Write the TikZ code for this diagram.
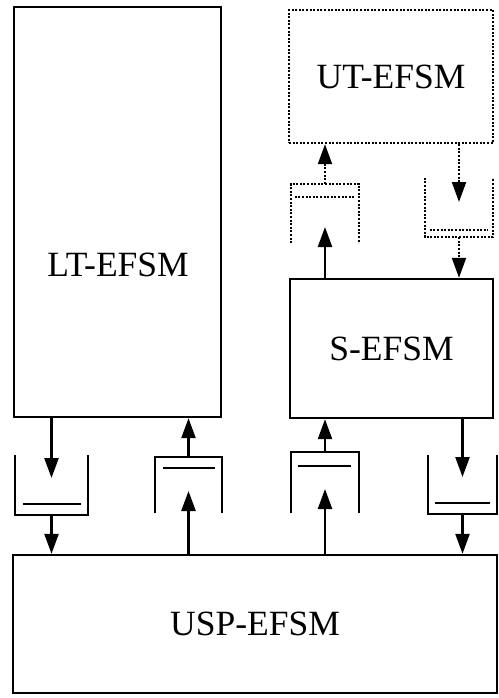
\documentclass[tikz,border=0pt]{standalone}
\usepackage{fontspec}
\setmainfont{Liberation Serif}
\usetikzlibrary{arrows.meta,positioning,calc}

\begin{document}
\begin{tikzpicture}[
  x=1pt, y=-1pt,
  font=\fontsize{35.5}{40}\selectfont,
  >={Triangle[length=20pt,width=14pt]},
  efsm/.style={draw, line width=2.4pt, inner sep=0pt},
  dotbox/.style={efsm, dash pattern=on 2pt off 1.6pt},
  queue/.style={inner sep=0pt},
  qline/.style={line width=2.4pt},
  qdot/.style={line width=2.2pt, dash pattern=on 2pt off 1.6pt},
  arr/.style={->, line width=2.4pt},
  darr/.style={->, line width=2.2pt, dash pattern=on 2pt off 1.6pt}
]
\useasboundingbox (0,0) rectangle (498,698);

% machines
\node[efsm, minimum width=207pt, minimum height=410pt] (lt) at (117.5,212) {};
\node (ltlabel) at (118,265) {LT-EFSM};
\node[dotbox, minimum width=204pt, minimum height=133pt] (ut) at (391,76.5) {UT-EFSM};
\node[efsm, minimum width=203pt, minimum height=139pt] (s) at (391.5,348.5) {S-EFSM};
\node[efsm, minimum width=484pt, minimum height=138pt] (usp) at (255,624) {USP-EFSM};

% queues
\node[queue, minimum width=73pt, minimum height=60pt] (q1) at (51.5,485) {};
\node[queue, minimum width=67pt, minimum height=56pt] (q2) at (188.5,485) {};
\node[queue, minimum width=68pt, minimum height=61pt] (q3) at (325,482.5) {};
\node[queue, minimum width=69pt, minimum height=59pt] (q4) at (462.5,484.5) {};
\node[queue, minimum width=68pt, minimum height=59pt] (q5) at (325,213.5) {};
\node[queue, minimum width=68pt, minimum height=59pt] (q6) at (459,207.5) {};

\draw[qline] (q1.north west) -- (q1.south west) -- (q1.south east) -- (q1.north east);
\draw[qline] ($(q1.south west)+(8,-11)$) -- ($(q1.south east)+(-7,-11)$);
\draw[qline] (q2.south west) -- (q2.north west) -- (q2.north east) -- (q2.south east);
\draw[qline] ($(q2.north west)+(8,11)$) -- ($(q2.north east)+(-7,11)$);
\draw[qline] (q3.south west) -- (q3.north west) -- (q3.north east) -- (q3.south east);
\draw[qline] ($(q3.north west)+(7,14)$) -- ($(q3.north east)+(-8,14)$);
\draw[qline] (q4.north west) -- (q4.south west) -- (q4.south east) -- (q4.north east);
\draw[qline] ($(q4.south west)+(7,-11)$) -- ($(q4.south east)+(-7,-11)$);
\draw[qdot] (q5.south west) -- (q5.north west) -- (q5.north east) -- (q5.south east);
\draw[qdot] ($(q5.north west)+(4,13)$) -- ($(q5.north east)+(-4,13)$);
\draw[qdot] (q6.north west) -- (q6.south west) -- (q6.south east) -- (q6.north east);
\draw[qdot] ($(q6.south west)+(5,-7)$) -- ($(q6.south east)+(-5,-7)$);

% arrow ends inside the queues
\coordinate (q1in) at (51.5,478);
\coordinate (q2in) at (188.5,491);
\coordinate (q3in) at (325,489);
\coordinate (q4in) at (462.5,477);
\coordinate (q5in) at (325,227);
\coordinate (q6in) at (459,202);

% flows
\draw[arr] (q1 |- lt.south) -- (q1in);
\draw[arr] (q1.south) -- (q1 |- usp.north);
\draw[arr] (q2 |- usp.north) -- (q2in);
\draw[arr] (q2.north) -- (q2 |- lt.south);
\draw[arr] (q3 |- usp.north) -- (q3in);
\draw[arr] (q3.north) -- (q3 |- s.south);
\draw[arr] (q4 |- s.south) -- (q4in);
\draw[arr] (q4.south) -- (q4 |- usp.north);
\draw[arr] (q5 |- s.north) -- (q5in);
\draw[darr] (q5.north) -- (q5 |- ut.south);
\draw[darr] (q6 |- ut.south) -- (q6in);
\draw[darr] (q6.south) -- (q6 |- s.north);
\end{tikzpicture}
\end{document}
